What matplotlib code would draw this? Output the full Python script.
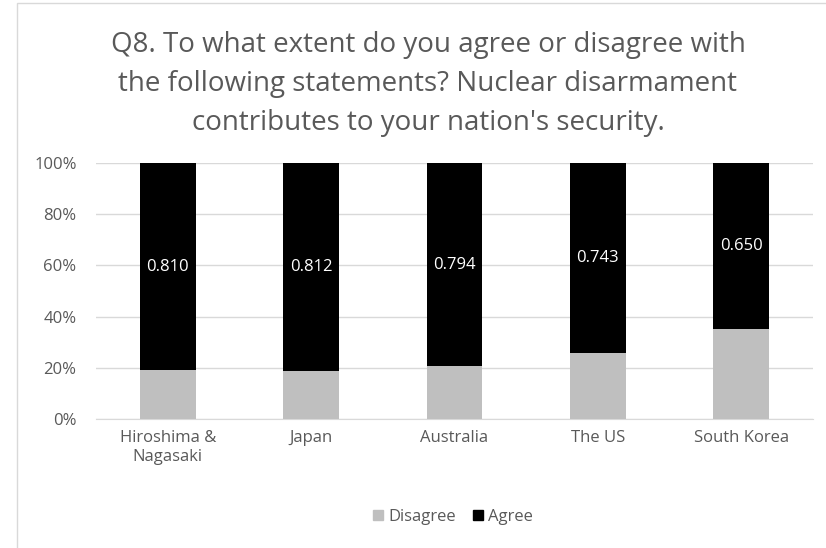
import matplotlib.pyplot as plt
import numpy as np
from matplotlib.patches import Rectangle, Patch

categories = ["Hiroshima &\nNagasaki", "Japan", "Australia", "The US", "South Korea"]
agree = [0.810, 0.812, 0.794, 0.743, 0.650]
disagree = [1 - a for a in agree]
yticks = [0, 0.2, 0.4, 0.6, 0.8, 1.0]
ytick_labels = ["0%", "20%", "40%", "60%", "80%", "100%"]

plt.rcParams['font.family'] = ['Open Sans', 'DejaVu Sans']
txt = "#595959"
fs = 12

fig = plt.figure(figsize=(8.26, 5.48), dpi=100)
fig.patches.append(Rectangle((17 / 826, -0.1), 1.2, 1 - 3 / 548 + 0.1, transform=fig.transFigure,
                             fill=False, edgecolor="#d9d9d9", linewidth=1))

ax = fig.add_axes([96 / 826, 1 - 419 / 548, (813 - 96) / 826, (419 - 163) / 548])
x = np.arange(len(categories))
ax.bar(x, disagree, width=0.39, color="#bfbfbf", label="Disagree", zorder=3)
ax.bar(x, agree, width=0.39, bottom=disagree, color="black", label="Agree", zorder=3)
for xi, d, a in zip(x, disagree, agree):
    ax.text(xi, d + a / 2, f"{a:.3f}", ha="center", va="center", color="white", fontsize=fs, zorder=4)

ax.set_xlim(-0.5, len(categories) - 0.5)
ax.set_ylim(0, 1)
ax.set_yticks(yticks)
ax.set_yticklabels(ytick_labels, color=txt, fontsize=fs)
ax.set_xticks(x)
ax.set_xticklabels(categories, color=txt, fontsize=fs, linespacing=1.2)
ax.tick_params(length=0, pad=14)
ax.tick_params(axis="x", pad=8)
ax.grid(axis="y", color="#d9d9d9", linewidth=1, zorder=0)
for s in ["top", "right", "left"]:
    ax.spines[s].set_visible(False)
ax.spines["bottom"].set_color("#d9d9d9")

fig.text(428 / 826, 1 - 84 / 548, "Q8. To what extent do you agree or disagree with\nthe following statements? Nuclear disarmament\ncontributes to your nation's security.",
         ha="center", va="center", fontsize=20, color=txt, linespacing=1.52)

handles = [Patch(color="#bfbfbf", label="Disagree"), Patch(color="black", label="Agree")]
fig.legend(handles=handles, loc="center", bbox_to_anchor=(453 / 826, 1 - 517 / 548), ncol=2, frameon=False,
           fontsize=fs, labelcolor=txt, handlelength=0.6, handleheight=0.6, handletextpad=0.3, columnspacing=1.0)

fig.savefig("out.png", dpi=100)
